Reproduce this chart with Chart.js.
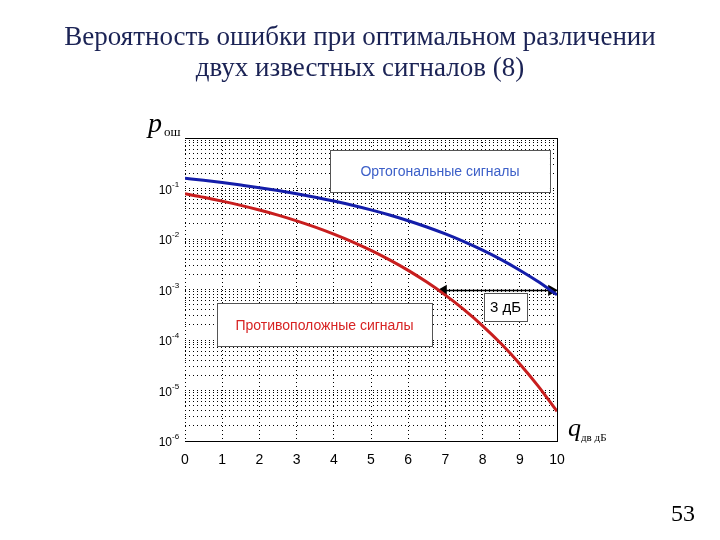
<!DOCTYPE html>
<html><head><meta charset="utf-8">
<script src="https://cdn.jsdelivr.net/npm/chart.js@4/dist/chart.umd.min.js"></script>
<style>
html,body{margin:0;padding:0;background:#fff;}
#wrap{position:relative;width:720px;height:540px;overflow:hidden;}
#title{position:absolute;left:0;top:21px;width:720px;text-align:center;font-family:'Liberation Serif','Times New Roman',serif;font-size:27px;line-height:31px;color:#1b2355;}
#page{position:absolute;left:671px;top:500px;font-family:'Liberation Serif','Times New Roman',serif;font-size:24px;color:#000;}
canvas{position:absolute;left:0;top:0;}
</style></head><body>
<div id="wrap"><canvas id="c" width="720" height="540"></canvas>
<div id="title">Вероятность ошибки при оптимальном различении<br>двух известных сигналов (8)</div>
<div id="page">53</div></div>
<script>
// q, dB
const qDb = [0,0.5,1,1.5,2,2.5,3,3.5,4,4.5,5,5.5,6,6.5,7,7.5,8,8.5,9,9.5,10];
// orthogonal signals error probability
const pOrth = [0.159,0.145,0.131,0.117,0.104,0.0912,0.0789,0.0673,0.0565,0.0466,0.0377,0.0298,0.0230,0.0173,0.0126,0.00886,0.00600,0.00390,0.00241,0.00142,0.000783];
// antipodal signals error probability
const pAnti = [0.0786,0.0671,0.0563,0.0464,0.0375,0.0297,0.0229,0.0172,0.0125,0.00879,0.00595,0.00386,0.00239,0.00140,0.000773,0.000399,0.000191,0.0000840,0.0000336,0.0000121,0.00000387];
const xTicks = [0,1,2,3,4,5,6,7,8,9,10];
const yDecades = [1e-6,1e-5,1e-4,1e-3,1e-2,1e-1,1];
const yTickExp = ['-6','-5','-4','-3','-2','-1',''];
const arrowX = [6.95, 9.85];
const arrowY = [0.00096, 0.00096];
const labelOrth = 'Ортогональные сигналы';
const labelAnti = 'Противоположные сигналы';
const label3dB = '3 дБ';

const SANS = "'Liberation Sans', Arial, sans-serif";
const SERIF = "'Liberation Serif', 'Times New Roman', serif";

const boxes = [
  {text: labelOrth, x0: 3.9, x1: 9.81, e0: -0.238, e1: -1.071, color: 'rgb(60,95,200)', size: 14},
  {text: labelAnti, x0: 0.86, x1: 6.64, e0: -3.274, e1: -4.127, color: 'rgb(215,35,35)', size: 14},
  {text: label3dB, x0: 8.04, x1: 9.19, e0: -3.075, e1: -3.631, color: '#000', size: 15}
];

const extras = {
  id: 'extras',
  afterDatasetsDraw(chart) {
    const {ctx, chartArea: a, scales: {x, y}} = chart;
    ctx.save();
    // top & right solid frame
    ctx.strokeStyle = '#000'; ctx.lineWidth = 1; ctx.setLineDash([]);
    ctx.beginPath();
    ctx.moveTo(Math.round(a.left)+0.5, Math.round(a.top)+0.5);
    ctx.lineTo(Math.round(a.right)+0.5, Math.round(a.top)+0.5);
    ctx.lineTo(Math.round(a.right)+0.5, Math.round(a.bottom)+0.5);
    ctx.stroke();
    // annotation boxes
    boxes.forEach(b => {
      const l = x.getPixelForValue(b.x0), r = x.getPixelForValue(b.x1);
      const t = y.getPixelForValue(Math.pow(10, b.e0)), bt = y.getPixelForValue(Math.pow(10, b.e1));
      ctx.fillStyle = '#fff';
      ctx.fillRect(l, t, r - l, bt - t);
      ctx.strokeStyle = '#555'; ctx.lineWidth = 1;
      ctx.strokeRect(Math.round(l)+0.5, Math.round(t)+0.5, Math.round(r-l), Math.round(bt-t));
      ctx.fillStyle = b.color;
      ctx.font = b.size + 'px ' + SANS;
      ctx.textAlign = 'center'; ctx.textBaseline = 'middle';
      ctx.fillText(b.text, (l + r) / 2, (t + bt) / 2 + 1);
    });
    // y tick labels 10^n
    ctx.fillStyle = '#000';
    yDecades.forEach((v, i) => {
      if (!yTickExp[i]) return;
      const py = y.getPixelForValue(v);
      ctx.font = '12px ' + SANS;
      ctx.textAlign = 'right'; ctx.textBaseline = 'middle';
      ctx.fillText('10', a.left - 13, py + 2);
      ctx.font = '8px ' + SANS;
      ctx.textAlign = 'left';
      ctx.fillText(yTickExp[i], a.left - 13, py - 4);
    });
    // axis labels
    ctx.textAlign = 'left'; ctx.textBaseline = 'alphabetic';
    ctx.font = 'italic 28px ' + SERIF;
    ctx.fillText('p', a.left - 37, a.top - 6);
    ctx.font = '13px ' + SERIF;
    ctx.fillText('ош', a.left - 21, a.top - 2);
    ctx.font = 'italic 26px ' + SERIF;
    ctx.fillText('q', a.right + 11, a.bottom - 5);
    ctx.font = '11px ' + SERIF;
    ctx.fillText('дв дБ', a.right + 24, a.bottom);
    ctx.restore();
  }
};

const minorTicks = [];
yDecades.forEach((d, i) => {
  if (i < yDecades.length - 1) {
    for (let k = 1; k <= 9; k++) minorTicks.push(d * k);
  } else minorTicks.push(d);
});

new Chart(document.getElementById('c'), {
  type: 'line',
  data: {
    datasets: [
      {data: qDb.map((q, i) => ({x: q, y: pOrth[i]})), borderColor: 'rgb(20,30,170)', borderWidth: 3, pointRadius: 0, cubicInterpolationMode: 'monotone'},
      {data: qDb.map((q, i) => ({x: q, y: pAnti[i]})), borderColor: 'rgb(200,30,30)', borderWidth: 3, pointRadius: 0, cubicInterpolationMode: 'monotone'},
      {data: arrowX.map((q, i) => ({x: q, y: arrowY[i]})), borderColor: '#000', borderWidth: 1.5, pointStyle: 'triangle', pointRadius: 5, pointRotation: [-90, 90], pointBackgroundColor: '#000', pointBorderColor: '#000'}
    ]
  },
  options: {
    responsive: false,
    animation: false,
    layout: {padding: {left: 140, right: 163, top: 138, bottom: 69}},
    plugins: {legend: {display: false}, title: {display: false}, tooltip: {enabled: false}},
    scales: {
      x: {
        type: 'linear', min: 0, max: 10,
        afterBuildTicks: s => { s.ticks = xTicks.map(v => ({value: v})); },
        afterFit: s => { s.height = 30; },
        ticks: {color: '#000', font: {family: SANS, size: 14}, padding: 11, maxRotation: 0, autoSkip: false},
        grid: {color: '#000', lineWidth: 1, drawTicks: false},
        border: {display: true, color: '#000', width: 1, dash: [1, 3]}
      },
      y: {
        type: 'logarithmic', min: 1e-6, max: 1,
        afterBuildTicks: s => { s.ticks = minorTicks.map(v => ({value: v})); },
        afterFit: s => { s.width = 45; },
        ticks: {display: false, autoSkip: false},
        grid: {color: '#000', lineWidth: 1, drawTicks: false},
        border: {display: false, dash: [1, 3]}
      }
    }
  },
  plugins: [extras]
});
</script>
</body></html>
